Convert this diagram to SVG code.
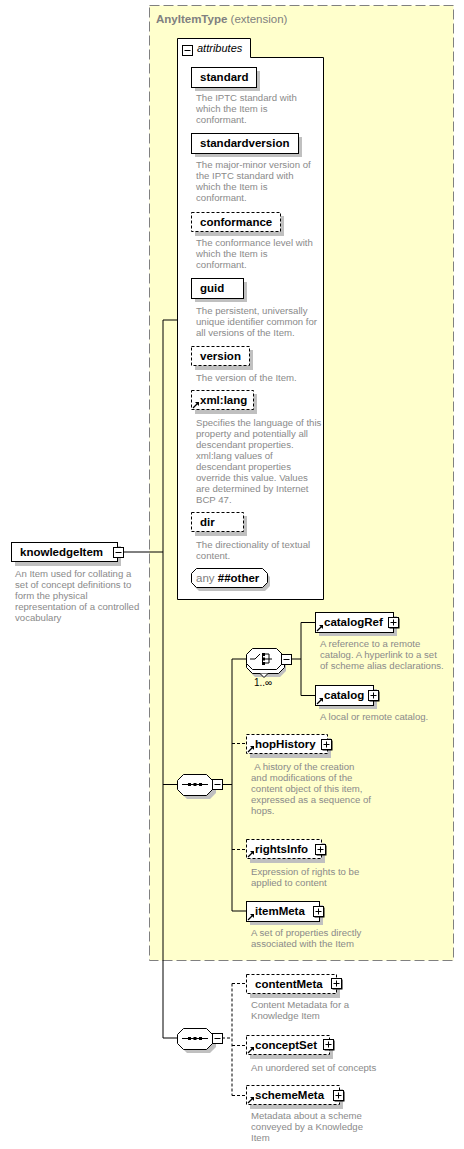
<svg xmlns="http://www.w3.org/2000/svg" xmlns:xlink="http://www.w3.org/1999/xlink" width="464" height="1149" viewBox="0 0 464 1149">
<style>
.lbl{font-family:"Liberation Sans",Arial,sans-serif;font-size:11.5px;font-weight:bold;fill:#000}
.desc{font-family:"Liberation Sans",Arial,sans-serif;font-size:9.6px;fill:#8a8a8a}
.box{fill:#fff;stroke:#000;stroke-width:1}
.dbox{fill:#fff;stroke:#000;stroke-width:1;stroke-dasharray:3 2}
.sh{fill:#c0c0c0}
.con{fill:none;stroke:#000;stroke-width:1}
.dcon{fill:none;stroke:#000;stroke-width:1;stroke-dasharray:3 2}
</style>
<defs>
<g id="plus"><rect x="1" y="1" width="10" height="10" fill="#000"/><rect x="0" y="0" width="10" height="10" fill="#fff" stroke="#000"/><path d="M2,5H8M5,2V8" stroke="#000"/></g>
<g id="minus"><rect x="0" y="0" width="10" height="10" fill="#fff" stroke="#000"/><path d="M2,5H8" stroke="#000"/></g>
<g id="ref"><path d="M0,6L5,1" stroke="#000" stroke-width="1.2"/><path d="M2,0H6V4Z" fill="#000"/></g>
</defs>

<g id="anyItemType">
<rect x="149.5" y="5.5" width="304" height="955" fill="#ffffcc" stroke="#808080" stroke-dasharray="10 4"/>
<text x="156" y="23" font-family="Liberation Sans,Arial,sans-serif" font-size="11.5" fill="#808080"><tspan font-weight="bold">AnyItemType</tspan> (extension)</text>
</g>

<g id="connectors">
<path class="con" d="M124,552H163M163,320V1038M163,320H177M163,784.5H177M163,1038H177"/>
<path class="con" d="M222,784.5H232M232,659V911M232,659H246M232,911H246"/>
<path class="dcon" d="M232,743.5H246M232,849.5H246"/>
<path class="con" d="M291,659H301M301,622.5V695.5M301,622.5H315M301,695.5H315"/>
<path class="dcon" d="M222,1038H232M232,983.5V1095.5M232,983.5H246M232,1045.5H246M232,1095.5H246"/>
</g>

<g id="attributes">
<path d="M177.5,599.5V38.5H250.5V57.5H323.5V599.5Z" fill="#fff" stroke="#000"/>
<use xlink:href="#minus" x="182.5" y="45.5"/>
<text x="197" y="52" font-family="Liberation Sans,Arial,sans-serif" font-size="11" font-style="italic">attributes</text>
</g>

<g id="standard">
<rect class="sh" x="195" y="71" width="65" height="20"/>
<rect class="box" x="191.5" y="67.5" width="65" height="20"/>
<text class="lbl" x="200" y="81">standard</text>
<text class="desc" x="196"><tspan x="196" y="101">The IPTC standard with</tspan><tspan x="196" y="112">which the Item is</tspan><tspan x="196" y="123">conformant.</tspan></text>
</g>
<g id="standardversion">
<rect class="sh" x="195" y="137" width="107" height="20"/>
<rect class="box" x="191.5" y="133.5" width="107" height="20"/>
<text class="lbl" x="200" y="147">standardversion</text>
<text class="desc"><tspan x="196" y="168">The major-minor version of</tspan><tspan x="196" y="179">the IPTC standard with</tspan><tspan x="196" y="190">which the Item is</tspan><tspan x="196" y="201">conformant.</tspan></text>
</g>
<g id="conformance">
<rect class="sh" x="195" y="216" width="89" height="20"/>
<rect class="dbox" x="191.5" y="212.5" width="89" height="19"/>
<text class="lbl" x="200" y="226">conformance</text>
<text class="desc"><tspan x="196" y="246">The conformance level with</tspan><tspan x="196" y="257">which the Item is</tspan><tspan x="196" y="268">conformant.</tspan></text>
</g>
<g id="guid">
<rect class="sh" x="195" y="282" width="52" height="20"/>
<rect class="box" x="191.5" y="278.5" width="52" height="20"/>
<text class="lbl" x="200" y="292">guid</text>
<text class="desc"><tspan x="196" y="314">The persistent, universally</tspan><tspan x="196" y="325">unique identifier common for</tspan><tspan x="196" y="336">all versions of the Item.</tspan></text>
</g>
<g id="version">
<rect class="sh" x="195" y="350" width="58" height="20"/>
<rect class="dbox" x="191.5" y="346.5" width="58" height="19"/>
<text class="lbl" x="200" y="360">version</text>
<text class="desc"><tspan x="196" y="381">The version of the Item.</tspan></text>
</g>
<g id="xmllang">
<rect class="sh" x="195" y="394" width="62" height="20"/>
<rect class="dbox" x="191.5" y="390.5" width="62" height="19"/>
<use xlink:href="#ref" x="193" y="402"/>
<text class="lbl" x="200" y="404">xml:lang</text>
<text class="desc"><tspan x="196" y="426">Specifies the language of this</tspan><tspan x="196" y="437">property and potentially all</tspan><tspan x="196" y="448">descendant properties.</tspan><tspan x="196" y="459">xml:lang values of</tspan><tspan x="196" y="470">descendant properties</tspan><tspan x="196" y="481">override this value. Values</tspan><tspan x="196" y="492">are determined by Internet</tspan><tspan x="196" y="503">BCP 47.</tspan></text>
</g>
<g id="dir">
<rect class="sh" x="195" y="516" width="52" height="20"/>
<rect class="dbox" x="191.5" y="512.5" width="52" height="19"/>
<text class="lbl" x="200" y="526">dir</text>
<text class="desc"><tspan x="196" y="548">The directionality of textual</tspan><tspan x="196" y="559">content.</tspan></text>
</g>
<g id="anyOther">
<path d="M199,572H265L270,577V586L265,591H199L194,586V577Z" class="sh"/>
<path d="M196.5,568.5H262.5L267.5,573.5V582.5L262.5,587.5H196.5L191.5,582.5V573.5Z" fill="#fff" stroke="#000"/>
<text x="196" y="582" font-family="Liberation Sans,Arial,sans-serif" font-size="11.5" fill="#808080">any <tspan font-weight="bold" fill="#000">##other</tspan></text>
</g>

<g id="knowledgeItem">
<rect class="sh" x="15" y="546" width="106" height="20"/>
<rect class="box" x="11.5" y="542.5" width="106" height="19"/>
<text class="lbl" x="20" y="556">knowledgeItem</text>
<use xlink:href="#minus" x="113.5" y="547.5"/>
<text class="desc"><tspan x="15" y="577">An Item used for collating a</tspan><tspan x="15" y="588">set of concept definitions to</tspan><tspan x="15" y="599">form the physical</tspan><tspan x="15" y="610">representation of a controlled</tspan><tspan x="15" y="621">vocabulary</tspan></text>
</g>

<g id="sequence1">
<path class="sh" d="M187,778H210L216,784V793L210,799H187L181,793V784Z"/>
<path d="M183.5,774.5H206.5L212.5,780.5V789.5L206.5,795.5H183.5L177.5,789.5V780.5Z" fill="#fff" stroke="#000"/>
<path d="M182,784.5H208" stroke="#000"/>
<rect x="188" y="783" width="3" height="3"/><rect x="193.5" y="783" width="3" height="3"/><rect x="199" y="783" width="3" height="3"/>
<use xlink:href="#minus" x="212.5" y="779.5"/>
</g>

<g id="choice">
<path class="sh" d="M255,656H280L286,662V671L280,677H255L249,671V662Z"/>
<path d="M252.5,652.5H278.5L284.5,658.5V667.5L278.5,673.5H252.5L246.5,667.5V658.5Z" fill="#fff" stroke="#000"/>
<path d="M260,673.5L264,677.5L268,673.5" fill="#fff" stroke="#000"/>
<path d="M252.5,648.5H276.5L282.5,654.5V663.5L276.5,669.5H252.5L246.5,663.5V654.5Z" fill="#fff" stroke="#000"/>
<path d="M250,659H255L260,654M262.5,655V663M264,654H269M264,659H272M264,663H269M269,654V663" stroke="#000" fill="none"/>
<rect x="262" y="653" width="3" height="3"/><rect x="262" y="657.5" width="3" height="3"/><rect x="262" y="662" width="3" height="3"/>
<use xlink:href="#minus" x="281.5" y="654.5"/>
<text x="254" y="686" font-family="Liberation Sans,Arial,sans-serif" font-size="10">1..∞</text>
</g>

<g id="catalogRef">
<rect class="sh" x="319" y="616" width="78" height="20"/>
<rect class="box" x="315.5" y="612.5" width="78" height="20"/>
<use xlink:href="#ref" x="317" y="625"/>
<text class="lbl" x="324" y="626">catalogRef</text>
<use xlink:href="#plus" x="388.5" y="617.5"/>
<text class="desc"><tspan x="320" y="647">A reference to a remote</tspan><tspan x="320" y="658">catalog. A hyperlink to a set</tspan><tspan x="320" y="669">of scheme alias declarations.</tspan></text>
</g>
<g id="catalog">
<rect class="sh" x="319" y="689" width="58" height="20"/>
<rect class="box" x="315.5" y="685.5" width="58" height="20"/>
<use xlink:href="#ref" x="317" y="698"/>
<text class="lbl" x="324" y="699">catalog</text>
<use xlink:href="#plus" x="368.5" y="690.5"/>
<text class="desc"><tspan x="320" y="720">A local or remote catalog.</tspan></text>
</g>
<g id="hopHistory">
<rect class="sh" x="250" y="738" width="81" height="20"/>
<rect class="dbox" x="246.5" y="734.5" width="81" height="19"/>
<use xlink:href="#ref" x="248" y="746"/>
<text class="lbl" x="255" y="748">hopHistory</text>
<use xlink:href="#plus" x="321.5" y="739.5"/>
<text class="desc" xml:space="preserve"><tspan x="252" y="770"> A history of the creation</tspan><tspan x="251" y="781">and modifications of the</tspan><tspan x="251" y="792">content object of this item,</tspan><tspan x="251" y="803">expressed as a sequence of</tspan><tspan x="251" y="814">hops.</tspan></text>
</g>
<g id="rightsInfo">
<rect class="sh" x="250" y="843" width="75" height="20"/>
<rect class="dbox" x="246.5" y="839.5" width="75" height="19"/>
<use xlink:href="#ref" x="248" y="851"/>
<text class="lbl" x="255" y="853">rightsInfo</text>
<use xlink:href="#plus" x="315.5" y="844.5"/>
<text class="desc"><tspan x="251" y="875">Expression of rights to be</tspan><tspan x="251" y="886">applied to content</tspan></text>
</g>
<g id="itemMeta">
<rect class="sh" x="250" y="905" width="73" height="20"/>
<rect class="box" x="246.5" y="901.5" width="73" height="20"/>
<use xlink:href="#ref" x="248" y="914"/>
<text class="lbl" x="255" y="915">itemMeta</text>
<use xlink:href="#plus" x="313.5" y="906.5"/>
<text class="desc"><tspan x="251" y="936">A set of properties directly</tspan><tspan x="251" y="947">associated with the Item</tspan></text>
</g>

<g id="sequence2">
<path class="sh" d="M187,1032H210L216,1038V1047L210,1053H187L181,1047V1038Z"/>
<path d="M183.5,1028.5H206.5L212.5,1034.5V1043.5L206.5,1049.5H183.5L177.5,1043.5V1034.5Z" fill="#fff" stroke="#000"/>
<path d="M182,1038.5H208" stroke="#000"/>
<rect x="188" y="1037" width="3" height="3"/><rect x="193.5" y="1037" width="3" height="3"/><rect x="199" y="1037" width="3" height="3"/>
<use xlink:href="#minus" x="212.5" y="1033.5"/>
</g>

<g id="contentMeta">
<rect class="sh" x="250" y="978" width="90" height="20"/>
<rect class="dbox" x="246.5" y="974.5" width="90" height="19"/>
<text class="lbl" x="255" y="988">contentMeta</text>
<use xlink:href="#plus" x="331.5" y="978.5"/>
<text class="desc"><tspan x="251" y="1008">Content Metadata for a</tspan><tspan x="251" y="1019">Knowledge Item</tspan></text>
</g>
<g id="conceptSet">
<rect class="sh" x="250" y="1039" width="83" height="20"/>
<rect class="dbox" x="246.5" y="1035.5" width="83" height="19"/>
<use xlink:href="#ref" x="248" y="1047"/>
<text class="lbl" x="255" y="1049">conceptSet</text>
<use xlink:href="#plus" x="323.5" y="1039.5"/>
<text class="desc"><tspan x="251" y="1071">An unordered set of concepts</tspan></text>
</g>
<g id="schemeMeta">
<rect class="sh" x="250" y="1089" width="93" height="20"/>
<rect class="dbox" x="246.5" y="1085.5" width="93" height="19"/>
<use xlink:href="#ref" x="248" y="1097"/>
<text class="lbl" x="255" y="1099">schemeMeta</text>
<use xlink:href="#plus" x="333.5" y="1090.5"/>
<text class="desc"><tspan x="251" y="1119">Metadata about a scheme</tspan><tspan x="251" y="1130">conveyed by a Knowledge</tspan><tspan x="251" y="1141">Item</tspan></text>
</g>
</svg>
